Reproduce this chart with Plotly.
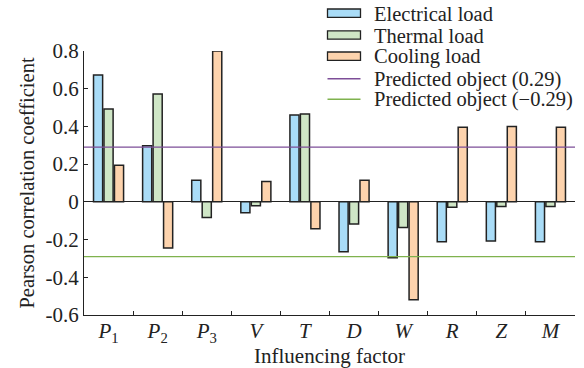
import plotly.graph_objects as go

categories = ["<i>P</i><sub>1</sub>", "<i>P</i><sub>2</sub>", "<i>P</i><sub>3</sub>", "<i>V</i>", "<i>T</i>",
              "<i>D</i>", "<i>W</i>", "<i>R</i>", "<i>Z</i>", "<i>M</i>"]
electrical = [0.673, 0.297, 0.115, -0.058, 0.461, -0.265, -0.297, -0.212, -0.207, -0.212]
thermal = [0.493, 0.572, -0.083, -0.020, 0.466, -0.118, -0.136, -0.028, -0.025, -0.025]
cooling = [0.194, -0.245, 0.800, 0.108, -0.143, 0.115, -0.519, 0.396, 0.399, 0.396]
threshold_pos = 0.29
threshold_neg = -0.29
series_names = ["Electrical load", "Thermal load", "Cooling load",
                "Predicted object (0.29)", "Predicted object (\u22120.29)"]
ytick_vals = [-0.6, -0.4, -0.2, 0, 0.2, 0.4, 0.6, 0.8]
ytick_text = ["-0.6", "-0.4", "-0.2", "0", "0.2", "0.4", "0.6", "0.8"]

FONT = "Times New Roman, Liberation Serif, DejaVu Serif, serif"
INK = "#222222"
bar_colors = ["#a9dcf7", "#cfe6c6", "#fdd3ad"]
line_colors = ["#7d4e98", "#7fb24e"]
outline = dict(color=INK, width=1.5)

fig = go.Figure()
for vals, name, col in zip([electrical, thermal, cooling], series_names[:3], bar_colors):
    fig.add_trace(go.Bar(x=categories, y=vals, name=name, showlegend=False,
                         marker=dict(color=col, line=outline)))

# Horizontal threshold lines spanning the full axis (on a hidden overlay x axis)
for val, name, col in zip([threshold_pos, threshold_neg], series_names[3:], line_colors):
    fig.add_trace(go.Scatter(x=[0, 1], y=[val, val], mode="lines", name=name, xaxis="x2",
                             showlegend=False, line=dict(color=col, width=1.3)))

# Legend (drawn to match the reference's compact spacing)
L, R, T, B = 84, 575, 51, 315
W, H = R - L, B - T
def px(x):
    return (x - L) / W
def py(y):
    return (B - y) / H

legend_y = [13.2, 35.0, 56.2, 78.7, 99.3]
shapes = []
annotations = []
for i, (name, yc) in enumerate(zip(series_names, legend_y)):
    if i < 3:
        shapes.append(dict(type="rect", xref="paper", yref="paper",
                           x0=px(327.5), x1=px(360.5), y0=py(yc + 4.2), y1=py(yc - 4.2),
                           fillcolor=bar_colors[i], line=dict(color=INK, width=1.3), layer="above"))
    else:
        shapes.append(dict(type="line", xref="paper", yref="paper",
                           x0=px(327.5), x1=px(360.5), y0=py(yc), y1=py(yc),
                           line=dict(color=line_colors[i - 3], width=1.5), layer="above"))
    annotations.append(dict(text=name, xref="paper", yref="paper", x=px(372), y=py(yc + 0.5),
                            xanchor="left", yanchor="middle", showarrow=False,
                            font=dict(family=FONT, size=20.5, color=INK)))

fig.update_layout(
    width=584, height=368,
    margin=dict(l=L, r=584 - R, t=T, b=368 - B, autoexpand=False),
    paper_bgcolor="white", plot_bgcolor="white",
    font=dict(family=FONT, size=20, color=INK),
    barmode="group", bargap=0.36, bargroupgap=0.13,
    showlegend=False,
    shapes=shapes, annotations=annotations,
    xaxis=dict(
        type="category", tickson="boundaries", ticks="inside", ticklen=4,
        tickcolor=INK, showline=True, linecolor=INK, linewidth=1.3,
        showgrid=False, zeroline=False, automargin=False, ticklabelstandoff=-3,
        tickfont=dict(family=FONT, size=21, color=INK),
        title=dict(text="Influencing factor", font=dict(family=FONT, size=21), standoff=3),
    ),
    xaxis2=dict(overlaying="x", range=[0, 1], visible=False, fixedrange=True),
    yaxis=dict(
        range=[-0.6, 0.8], tickvals=ytick_vals, ticktext=ytick_text,
        ticks="inside", ticklen=4, tickcolor=INK,
        showline=True, linecolor=INK, linewidth=1.3,
        showgrid=False, zeroline=True, zerolinecolor=INK, zerolinewidth=1.3,
        automargin=False,
        tickfont=dict(family=FONT, size=21, color=INK),
        title=dict(text="Pearson correlation coefficient", font=dict(family=FONT, size=20.5), standoff=5),
    ),
)

fig.write_html("out.html", config={"displayModeBar": False},
               post_script="document.body.style.margin='0';")
